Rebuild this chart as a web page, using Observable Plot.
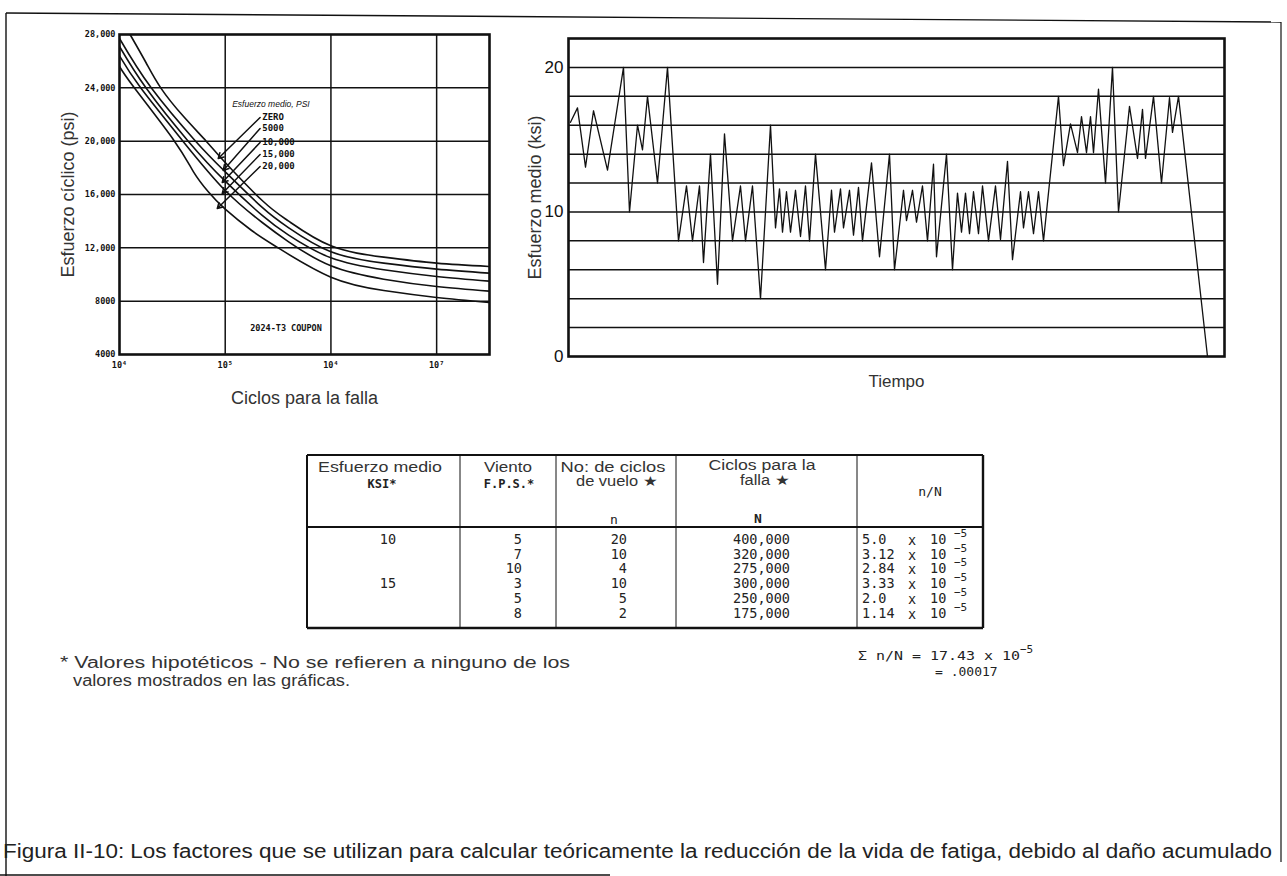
<!DOCTYPE html>
<html><head><meta charset="utf-8">
<script src="https://cdn.jsdelivr.net/npm/d3@7"></script>
<script src="https://cdn.jsdelivr.net/npm/@observablehq/plot@0.6"></script>
<style>
html,body{margin:0;padding:0;background:#fff;}
#root{position:relative;width:1287px;height:876px;overflow:hidden;background:#fff;}
#root > *{position:absolute;}
</style></head><body><div id="root"></div>
<script>
// ---------- Left chart: S-N curves (2024-T3 coupon) ----------
const meanStressLabels = ["ZERO", "5000", "10,000", "15,000", "20,000"];
const logCycles0 = [4.1, 4.25, 4.39, 4.6, 4.82, 5.0, 5.35, 5.6, 6.0, 6.5, 7.0, 7.5];
const stress0    = [28000, 25900, 24000, 21900, 20000, 18400, 15550, 14000, 12150, 11300, 10850, 10600];
const logCycles1 = [4.0, 4.3, 4.72, 5.0, 5.35, 5.6, 6.0, 6.5, 7.0, 7.5];
const stress1    = [27700, 24000, 20000, 17700, 15030, 13500, 11700, 10850, 10400, 10100];
const logCycles2 = [4.0, 4.25, 4.65, 5.0, 5.35, 5.6, 6.0, 6.5, 7.0, 7.5];
const stress2    = [27100, 24000, 20000, 17000, 14430, 12950, 11250, 10350, 9850, 9500];
const logCycles3 = [4.0, 4.2, 4.6, 5.0, 5.35, 5.6, 6.0, 6.5, 7.0, 7.5];
const stress3    = [26400, 24000, 20000, 16300, 13900, 12450, 10650, 9650, 9100, 8750];
const logCycles4 = [4.0, 4.14, 4.52, 4.7, 4.84, 5.0, 5.25, 5.5, 6.0, 6.5, 7.0, 7.5];
const stress4    = [25600, 24000, 20000, 17700, 16200, 14900, 13300, 12000, 9800, 8800, 8280, 7900];

const sTickValues = [4000, 8000, 12000, 16000, 20000, 24000, 28000];
const sTickLabels = ["4000", "8000", "12,000", "16,000", "20,000", "24,000", "28,000"];
const nTickValues = [1e4, 1e5, 1e6, 1e7];
const nTickLabels = ["10\u2074", "10\u2075", "10\u2074", "10\u2077"];

// label callouts (log cycles / psi)
const calloutLabelLog = [5.33, 5.33, 5.33, 5.33, 5.33];
const calloutLabelS   = [21775, 20950, 19900, 19000, 18100];
const calloutTipLog   = [4.934, 4.981, 4.972, 4.972, 4.925];
const calloutTipS     = [18700, 17800, 16900, 16075, 14950];

// ---------- Right chart: mean stress history ----------
const timeIdx = [2, 9, 17, 25, 39, 55, 61, 69, 74, 79, 89, 99, 110, 118, 124, 131, 135, 142, 149, 156,
  164, 172, 177, 184, 192, 202, 207, 211, 214, 218, 222, 227, 232, 237, 241, 247, 257, 263, 266, 272,
  275, 281, 285, 290, 294, 303, 311, 321, 326, 335, 338, 344, 348, 354, 359, 365, 368, 378, 384, 389,
  393, 397, 401, 405, 410, 414, 420, 427, 432, 439, 444, 452, 455, 460, 465, 470, 475, 490, 495, 502,
  509, 513, 518, 522, 525, 530, 537, 544, 550, 561, 569, 574, 577, 585, 593, 601, 604, 610, 639];
const meanKsi = [16.2, 17.2, 13.1, 17.0, 12.9, 20, 10, 16, 14.3, 18, 12, 20, 8, 11.8, 8, 11.8, 6.5, 14, 5, 15.4,
  8, 11.8, 8, 11.8, 4, 16, 8.9, 11.6, 8.6, 11.4, 8.6, 11.5, 8.3, 11.8, 8, 14, 6, 11.5, 8.6, 11.6,
  8.9, 11.5, 8.4, 11.7, 8, 13.4, 6.9, 14, 6, 11.5, 9.4, 11.5, 9.3, 11.8, 8, 13.3, 6.9, 14, 6, 11.3,
  8.6, 11.3, 8.5, 11.4, 8.5, 11.8, 8, 11.8, 8.1, 13.5, 6.7, 11.4, 8.9, 11.4, 8.5, 11.4, 8, 18, 13.2, 16.1,
  14.1, 16.6, 14.1, 16.6, 14.1, 18.5, 12, 20, 10, 17.3, 13.7, 17.1, 13.7, 18, 12, 17.9, 15.5, 18, 0];
const ksiGrid = [2, 4, 6, 8, 10, 12, 14, 16, 18, 20];
const ksiTicks = [0, 10, 20];

// ---------- Table ----------
const colMean   = ["10", "", "", "15", "", ""];
const colWind   = ["5", "7", "10", "3", "5", "8"];
const colFlight = ["20", "10", "4", "10", "5", "2"];
const colFail   = ["400,000", "320,000", "275,000", "300,000", "250,000", "175,000"];
const colRatio  = ["5.0", "3.12", "2.84", "3.33", "2.0", "1.14"];

const root = document.getElementById("root");
const ink = "#111";
const sans = "'Liberation Sans', Arial, sans-serif";
const mono = "'DejaVu Sans Mono', monospace";

// ----- left chart -----
const curveSets = [[logCycles0, stress0], [logCycles1, stress1], [logCycles2, stress2], [logCycles3, stress3], [logCycles4, stress4]];
const curveRows = curveSets.flatMap(([lc, s], k) => lc.map((l, i) => ({mean: meanStressLabels[k], N: 10 ** l, S: s[i]})));
const callouts = meanStressLabels.map((m, i) => ({
  m, x1: 10 ** calloutLabelLog[i], y1: calloutLabelS[i], x2: 10 ** calloutTipLog[i], y2: calloutTipS[i],
  lx: 10 ** (calloutLabelLog[i] + 0.02), ly: calloutLabelS[i]
}));
const nLabel = new Map(nTickValues.map((v, i) => [v, nTickLabels[i]]));
const sLabel = new Map(sTickValues.map((v, i) => [v, sTickLabels[i]]));

const left = Plot.plot({
  width: 520, height: 410,
  marginLeft: 119, marginRight: 31, marginTop: 34, marginBottom: 56,
  style: {fontFamily: mono, fontSize: "8.5px", fontWeight: "bold", color: ink, background: "transparent"},
  x: {type: "log", domain: [1e4, 10 ** 7.5], ticks: nTickValues, tickFormat: d => nLabel.get(d), tickSize: 0, tickPadding: 7, label: null},
  y: {domain: [4000, 28000], ticks: sTickValues, tickFormat: d => sLabel.get(d), tickSize: 0, tickPadding: 4, label: null},
  marks: [
    Plot.ruleX(nTickValues.slice(1), {stroke: ink, strokeWidth: 1.5}),
    Plot.ruleY(sTickValues.slice(1, -1), {stroke: ink, strokeWidth: 1.5}),
    Plot.line(curveRows, {x: "N", y: "S", z: "mean", curve: "natural", stroke: ink, strokeWidth: 1.6, clip: true}),
    Plot.arrow(callouts, {x1: "x1", y1: "y1", x2: "x2", y2: "y2", stroke: ink, strokeWidth: 1.5, headLength: 6, bend: 0}),
    Plot.text(callouts, {x: "lx", y: "ly", text: "m", textAnchor: "start", fontSize: 9, fontWeight: "bold", fontFamily: mono, fill: ink}),
    Plot.text(["Esfuerzo medio, PSI"], {x: 10 ** 5.066, y: 22750, textAnchor: "start", fontSize: 8.5, fontStyle: "italic", fontWeight: "normal", fontFamily: sans, fill: ink}),
    Plot.text(["2024-T3 COUPON"], {x: 10 ** 5.575, y: 5950, fontSize: 8.5, fontWeight: "bold", fontFamily: mono, fill: ink}),
    Plot.frame({stroke: ink, strokeWidth: 2.6}),
    Plot.text(["Esfuerzo c\u00edclico (psi)"], {frameAnchor: "left", dx: -51, rotate: -90, textAnchor: "middle", lineAnchor: "middle", fontSize: 18, fontWeight: "normal", fontFamily: sans, fill: "#333"}),
    Plot.text(["Ciclos para la falla"], {frameAnchor: "bottom", dy: 44, lineAnchor: "middle", fontSize: 18, fontWeight: "normal", fontFamily: sans, fill: "#333"})
  ]
});
left.style.left = "0px"; left.style.top = "0px";
root.appendChild(left);

// ----- right chart -----
const seriesRows = timeIdx.map((t, i) => ({t, v: meanKsi[i]}));
const right = Plot.plot({
  width: 760, height: 400,
  marginLeft: 68, marginRight: 36, marginTop: 38, marginBottom: 44,
  style: {fontFamily: sans, fontSize: "17px", color: ink, background: "transparent"},
  x: {domain: [0, 656], axis: null},
  y: {domain: [0, 22], ticks: ksiTicks, tickSize: 0, tickPadding: 5, label: null},
  marks: [
    Plot.ruleY(ksiGrid, {stroke: ink, strokeWidth: 1.5}),
    Plot.line(seriesRows, {x: "t", y: "v", stroke: ink, strokeWidth: 1.3}),
    Plot.frame({stroke: ink, strokeWidth: 2.6}),
    Plot.text(["Esfuerzo medio (ksi)"], {frameAnchor: "left", dx: -33, rotate: -90, textAnchor: "middle", lineAnchor: "middle", fontSize: 18, fontFamily: sans, fill: "#333"}),
    Plot.text(["Tiempo"], {frameAnchor: "bottom", dy: 25, lineAnchor: "middle", fontSize: 17, fontFamily: sans, fill: "#333"})
  ]
});
right.style.left = "500px"; right.style.top = "0px";
root.appendChild(right);

// ----- overlay: frame, table, notes, caption -----
const svg = d3.create("svg").attr("width", 1287).attr("height", 876)
  .style("left", "0px").style("top", "0px").style("pointer-events", "none");
const line = (x1, y1, x2, y2, w = 1.5) => svg.append("line").attr("x1", x1).attr("y1", y1).attr("x2", x2).attr("y2", y2)
  .attr("stroke", ink).attr("stroke-width", w);
const text = (x, y, s, o = {}) => {
  const t = svg.append("text").attr("x", x).attr("y", y).text(s)
    .attr("font-family", o.family || sans).attr("font-size", o.size || 14)
    .attr("font-weight", o.weight || "normal").attr("fill", o.fill || "#222")
    .attr("text-anchor", o.anchor || "start").attr("dominant-baseline", "middle");
  if (o.len) t.attr("textLength", o.len).attr("lengthAdjust", "spacingAndGlyphs");
  return t;
};
// page frame
line(6, 13, 1281, 22, 1.4);
line(6, 13, 6, 876, 1.4);
line(1281, 22, 1281, 862, 1.2);
line(0, 875, 610, 875, 1.6);

// table
const T = {l: 307, r: 983, t: 455, hb: 527, b: 628};
const cols = [460, 556, 676, 857];
line(T.l, T.t, T.r, T.t, 2);
line(T.l, T.b, T.r, T.b, 2.4);
line(T.l, T.t, T.l, T.b, 2);
line(T.r, T.t, T.r, T.b, 2.4);
line(T.l, T.hb, T.r, T.hb, 2);
cols.forEach(c => line(c, T.t, c, T.b, 1));
text(380, 468, "Esfuerzo medio", {anchor: "middle", len: 124, size: 14, fill: "#333"});
text(382, 484, "KSI*", {anchor: "middle", family: mono, size: 12, weight: "bold"});
text(508, 468, "Viento", {anchor: "middle", len: 48, size: 14, fill: "#333"});
text(509, 484, "F.P.S.*", {anchor: "middle", family: mono, size: 12, weight: "bold"});
text(613, 468, "No: de ciclos", {anchor: "middle", len: 105, size: 14, fill: "#333"});
text(617, 482, "de vuelo \u2605", {anchor: "middle", len: 82, size: 14, fill: "#333"});
text(614, 520, "n", {anchor: "middle", family: mono, size: 13});
text(762, 466, "Ciclos para la", {anchor: "middle", len: 107, size: 14, fill: "#333"});
text(765, 481, "falla  \u2605", {anchor: "middle", len: 50, size: 14, fill: "#333"});
text(758, 519, "N", {anchor: "middle", family: mono, size: 13, weight: "bold"});
text(930, 492, "n/N", {anchor: "middle", family: mono, size: 13});
const rowY = [540, 555, 569, 584, 599, 614];
rowY.forEach((y, i) => {
  if (colMean[i]) text(388, y, colMean[i], {anchor: "middle", family: mono, size: 13.5});
  text(522, y, colWind[i], {anchor: "end", family: mono, size: 13.5});
  text(627, y, colFlight[i], {anchor: "end", family: mono, size: 13.5});
  text(790, y, colFail[i], {anchor: "end", family: mono, size: 13.5});
  text(862, y, colRatio[i], {family: mono, size: 13.5});
  text(912, y + 1, "x", {anchor: "middle", family: mono, size: 13.5});
  text(930, y, "10", {family: mono, size: 13.5});
  text(954, y - 6, "\u22125", {family: mono, size: 11});
});

// notes
text(60, 664, "* Valores hipot\u00e9ticos - No se refieren a ninguno de los", {len: 510, size: 16, fill: "#333"});
text(73, 682, "valores mostrados en las gr\u00e1ficas.", {len: 277, size: 16, fill: "#333"});
text(858, 656, "\u03a3 n/N = 17.43 x 10", {family: mono, size: 13, len: 162});
text(1020, 650, "\u22125", {family: mono, size: 11});
text(935, 672, "= .00017", {family: mono, size: 13});

// caption
text(3, 853, "Figura II-10:  Los factores que se utilizan para calcular te\u00f3ricamente la reducci\u00f3n de la vida de fatiga, debido al da\u00f1o acumulado",
  {len: 1269, size: 20, family: "'Liberation Sans Narrow', 'Liberation Sans', sans-serif", fill: "#222"});

root.appendChild(svg.node());
</script></body></html>
